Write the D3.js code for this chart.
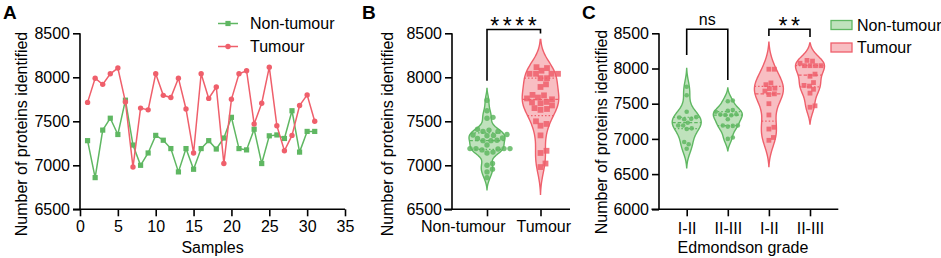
<!DOCTYPE html>
<html><head><meta charset="utf-8">
<script src="https://cdn.jsdelivr.net/npm/d3@7"></script>
<style>
body{margin:0;background:#fff;}
svg{display:block;font-family:Arial,"Liberation Sans",sans-serif;}
</style></head><body>
<svg id="chart" width="941" height="258"></svg>
<script>
// ---------------- DATA ----------------
const samples = [1,2,3,4,5,6,7,8,9,10,11,12,13,14,15,16,17,18,19,20,21,22,23,24,25,26,27,28,29,30,31];
const nonTumour = [7280,6860,7400,7535,7350,7740,7230,7000,7140,7340,7285,7190,6925,7190,6955,7190,7280,7185,7310,7545,7190,7175,7410,7020,7335,7345,7305,7620,7150,7385,7385];
const tumour    = [7715,7990,7920,8040,8105,7720,6980,7650,7630,8040,7795,7770,7990,7640,7140,8040,7760,7890,7020,7750,8040,8075,7470,7705,8115,7450,7165,7340,7680,7800,7500];
const grade = ["I-II","I-II","II-III","II-III","II-III","I-II","I-II","II-III","I-II","II-III","I-II","I-II","I-II","I-II","I-II","II-III","II-III","II-III","I-II","II-III","II-III","II-III","II-III","II-III","II-III","II-III","I-II","I-II","I-II","II-III","I-II"];
const seriesNames = ["Non-tumour","Tumour"];
const gradeNames = ["I-II","II-III"];
const xTicksA = [0,5,10,15,20,25,30,35];
const yTicksAB = [6500,7000,7500,8000,8500];
const yTicksC = [6000,6500,7000,7500,8000,8500];
const yTitle = "Number of proteins identified";

// ---------------- STYLE ----------------
const GREEN="#5fb762", RED="#ef5f6b", GREEN_FILL="#a9d8a6", RED_FILL="#f6a8ae";
const FS=16, AX=1.6;
const fmt=d3.format("d");
const svg=d3.select("#chart");

function styleAxis(g){
  g.select(".domain").remove();
  g.selectAll(".tick line").attr("stroke","#000").attr("stroke-width",AX);
  g.selectAll(".tick text").attr("font-size",FS).attr("fill","#000").attr("font-family","Arial, Liberation Sans, sans-serif");
}
function line(x1,y1,x2,y2,w){svg.append("line").attr("x1",x1).attr("y1",y1).attr("x2",x2).attr("y2",y2).attr("stroke","#000").attr("stroke-width",w||AX);}
function txt(x,y,s,opt){const t=svg.append("text").attr("x",x).attr("y",y).text(s).attr("font-size",opt&&opt.fs||FS).attr("fill","#000");
  if(opt&&opt.anchor)t.attr("text-anchor",opt.anchor); if(opt&&opt.bold)t.attr("font-weight","bold"); if(opt&&opt.ls)t.attr("letter-spacing",opt.ls); return t;}
function yTitleAt(x,y){svg.append("text").attr("transform",`translate(${x},${y}) rotate(-90)`).attr("text-anchor","middle").attr("font-size",FS).text(yTitle);}

// ---------------- PANEL A ----------------
const xA=d3.scaleLinear().domain([0,35]).range([80,345]);
const yA=d3.scaleLinear().domain([6500,8500]).range([209.3,33.3]);
svg.append("g").attr("transform","translate(80,0)").call(d3.axisLeft(yA).tickValues(yTicksAB).tickFormat(fmt).tickSize(7).tickPadding(3).tickSizeOuter(0)).call(styleAxis);
svg.append("g").attr("transform","translate(0,209.3)").call(d3.axisBottom(xA).tickValues(xTicksA).tickFormat(fmt).tickSize(7).tickPadding(4).tickSizeOuter(0)).call(styleAxis);
line(80,yA(8500),80,yA(6500)+0.8); line(73,yA(6500),xA(35),yA(6500));
txt(xA(17.5),253,"Samples",{anchor:"middle"});
yTitleAt(26.5,134);
txt(3,19.3,"A",{fs:19,bold:true});

const lineGen=d3.line().x((d,i)=>xA(samples[i])).y(d=>yA(d));
svg.append("path").datum(nonTumour).attr("d",lineGen).attr("fill","none").attr("stroke",GREEN).attr("stroke-width",1.5);
svg.append("g").selectAll("rect").data(nonTumour).join("rect")
  .attr("x",(d,i)=>xA(samples[i])-2.6).attr("y",d=>yA(d)-2.6).attr("width",5.2).attr("height",5.2).attr("fill",GREEN);
svg.append("path").datum(tumour).attr("d",lineGen).attr("fill","none").attr("stroke",RED).attr("stroke-width",1.5);
svg.append("g").selectAll("circle").data(tumour).join("circle")
  .attr("cx",(d,i)=>xA(samples[i])).attr("cy",d=>yA(d)).attr("r",2.7).attr("fill",RED);
// legend A
[[GREEN,"rect",seriesNames[0],23.5],[RED,"circle",seriesNames[1],46.5]].forEach(([c,shape,name,ly])=>{
  svg.append("line").attr("x1",218).attr("x2",238).attr("y1",ly).attr("y2",ly).attr("stroke",c).attr("stroke-width",1.5);
  if(shape==="rect") svg.append("rect").attr("x",225.4).attr("y",ly-2.6).attr("width",5.2).attr("height",5.2).attr("fill",c);
  else svg.append("circle").attr("cx",228).attr("cy",ly).attr("r",2.7).attr("fill",c);
  txt(250,ly+5.8,name,{fs:16});
});

// ---------------- VIOLIN HELPER ----------------
function violin(values,cx,y,halfW,color,fill,shape,size,robust){
  const s=values.slice().sort(d3.ascending), n=s.length;
  const sd=d3.deviation(s), iqr=d3.quantile(s,0.75)-d3.quantile(s,0.25);
  const spread=robust?Math.min(sd,iqr/1.34):sd;
  const bw=0.9*spread*Math.pow(n,-0.2);
  const lo=s[0]-2.2*bw, hi=s[n-1]+2.2*bw;
  const dens=v=>d3.mean(s,d=>Math.exp(-0.5*((v-d)/bw)**2));
  const pts=d3.range(0,121).map(i=>{const v=lo+(hi-lo)*i/120;return [v,dens(v)];});
  const floor=Math.min(dens(lo),dens(hi));
  const maxD=d3.max(pts,p=>p[1]);
  const w=d3.scaleLinear().domain([floor,maxD]).range([0,halfW]).clamp(true);
  const area=d3.area().y(p=>y(p[0])).x0(p=>cx-w(p[1])).x1(p=>cx+w(p[1])).curve(d3.curveBasis);
  const g=svg.append("g");
  g.append("path").datum(pts).attr("d",area).attr("fill",fill).attr("fill-opacity",0.75).attr("stroke",color).attr("stroke-width",1.4);
  [[0.25,"1.5,2"],[0.5,"3.5,2"],[0.75,"1.5,2"]].forEach(([q,dash])=>{
    const v=d3.quantile(s,q), hw=w(dens(v));
    g.append("line").attr("x1",cx-hw).attr("x2",cx+hw).attr("y1",y(v)).attr("y2",y(v)).attr("stroke",color).attr("stroke-width",1.2).attr("stroke-dasharray",dash);
  });
  const placed=[], dmin=size+0.3;
  s.forEach(v=>{
    const py=y(v); let px=cx;
    for(let i=0;i<200;i++){
      const o=i*0.5; let found=false;
      for(const sg of [1,-1]){
        const cand=cx+sg*o;
        if(placed.every(p=>Math.hypot(p.x-cand,p.y-py)>=dmin)){px=cand;found=true;break;}
      }
      if(found)break;
    }
    placed.push({x:px,y:py});
  });
  placed.forEach(p=>{
    if(shape==="circle") g.append("circle").attr("cx",p.x).attr("cy",p.y).attr("r",size/2).attr("fill",color).attr("fill-opacity",0.85);
    else g.append("rect").attr("x",p.x-size/2).attr("y",p.y-size/2).attr("width",size).attr("height",size).attr("fill",color).attr("fill-opacity",0.85);
  });
}
function bracket(x1,x2,yb,yl,yr){
  svg.append("path").attr("d",`M${x1},${yl}V${yb}H${x2}V${yr}`).attr("fill","none").attr("stroke","#000").attr("stroke-width",AX);
}

// ---------------- PANEL B ----------------
const xB=d3.scalePoint().domain(seriesNames).range([487,540.5]);
const yB=d3.scaleLinear().domain([6500,8500]).range([209.3,33.3]);
svg.append("g").attr("transform","translate(452,0)").call(d3.axisLeft(yB).tickValues(yTicksAB).tickFormat(fmt).tickSize(7).tickPadding(3).tickSizeOuter(0)).call(styleAxis);
const gxB=svg.append("g").attr("transform","translate(0,209.3)").call(d3.axisBottom(xB).tickSize(7).tickPadding(4).tickSizeOuter(0)).call(styleAxis);
gxB.selectAll(".tick text").attr("text-anchor",(d,i)=>i===0?"end":"start").attr("x",(d,i)=>i===0?18:-24.5);
line(452,yB(8500),452,yB(6500)+0.8); line(444,yB(6500),570,yB(6500));
yTitleAt(393.3,134);
txt(362,19.3,"B",{fs:19,bold:true});
violin(nonTumour,xB(seriesNames[0]),yB,18,GREEN,GREEN_FILL,"circle",5.4,true);
violin(tumour,xB(seriesNames[1]),yB,18.3,RED,RED_FILL,"rect",5.8,true);
bracket(xB(seriesNames[0]),xB(seriesNames[1]),29.5,yB(7960),33.5);
txt((xB(seriesNames[0])+xB(seriesNames[1]))/2+1.5,33.5,"****",{fs:23,anchor:"middle",ls:3.5});

// ---------------- PANEL C ----------------
const groupsC=[];
seriesNames.forEach(sn=>gradeNames.forEach(gn=>groupsC.push(sn+"|"+gn)));
const xC=d3.scalePoint().domain(groupsC).range([686.7,810]);
const yC=d3.scaleLinear().domain([6000,8500]).range([209.3,33.3]);
svg.append("g").attr("transform","translate(659,0)").call(d3.axisLeft(yC).tickValues(yTicksC).tickFormat(fmt).tickSize(7).tickPadding(3).tickSizeOuter(0)).call(styleAxis);
svg.append("g").attr("transform","translate(0,209.3)").call(d3.axisBottom(xC).tickSize(7).tickPadding(6).tickSizeOuter(0).tickFormat(d=>d.split("|")[1])).call(styleAxis);
line(659,yC(8500),659,yC(6000)+0.8); line(651.5,yC(6000),838.3,yC(6000));
yTitleAt(606.7,132);
txt(743,253.3,"Edmondson grade",{anchor:"middle"});
txt(582,19.3,"C",{fs:19,bold:true});
groupsC.forEach(key=>{
  const [sn,gn]=key.split("|");
  const src = sn===seriesNames[0]?nonTumour:tumour;
  const vals = src.filter((d,i)=>grade[i]===gn);
  const isN = sn===seriesNames[0];
  violin(vals,xC(key),yC,14.5,isN?GREEN:RED,isN?GREEN_FILL:RED_FILL,isN?"circle":"rect",isN?4.6:4.8,false);
});
bracket(xC(groupsC[0]),xC(groupsC[1]),29.3,55,80);
txt((xC(groupsC[0])+xC(groupsC[1]))/2,25,"ns",{anchor:"middle"});
bracket(xC(groupsC[2]),xC(groupsC[3]),29.3,36,37);
txt((xC(groupsC[2])+xC(groupsC[3]))/2+1.5,33.5,"**",{fs:23,anchor:"middle",ls:3.5});
// legend C
[[GREEN,GREEN_FILL,seriesNames[0],25],[RED,RED_FILL,seriesNames[1],47.5]].forEach(([c,f,name,ly])=>{
  svg.append("rect").attr("x",831).attr("y",ly-4.5).attr("width",21).attr("height",9).attr("fill",f).attr("fill-opacity",0.75).attr("stroke",c).attr("stroke-width",1.3);
  txt(857,ly+5.8,name,{fs:16});
});
</script>
</body></html>
